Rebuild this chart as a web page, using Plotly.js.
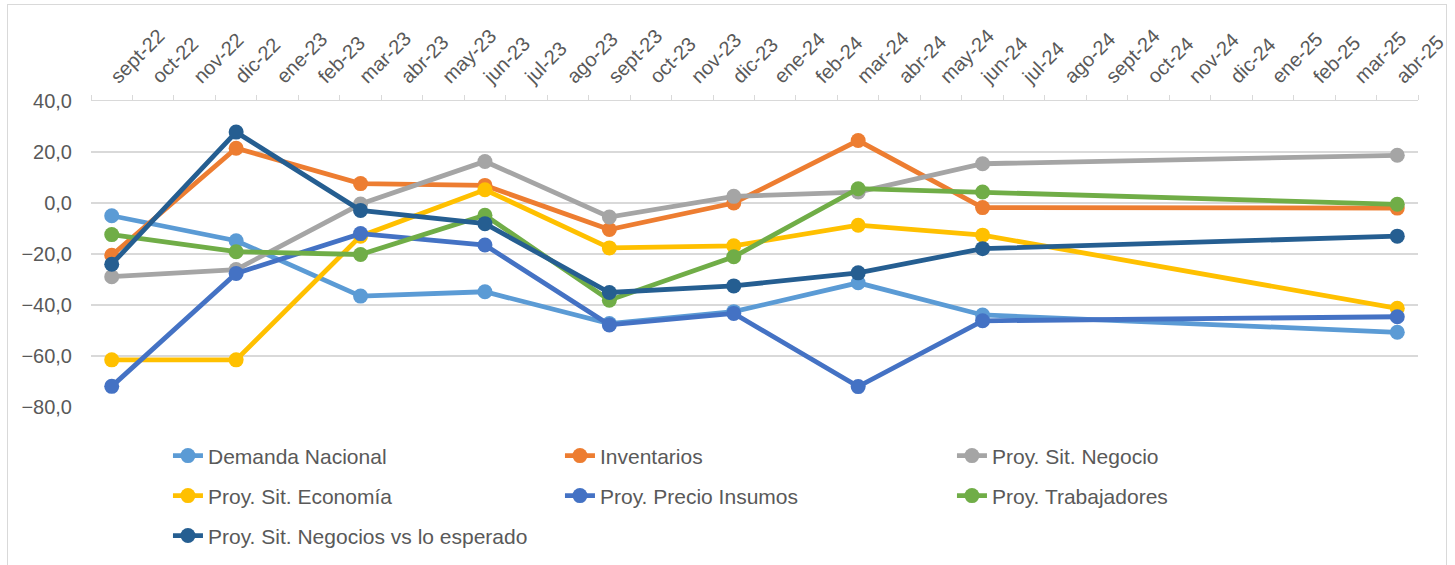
<!DOCTYPE html>
<html>
<head>
<meta charset="utf-8">
<script src="https://cdn.plot.ly/plotly-3.0.1.min.js"></script>
<style>
  html, body { margin:0; padding:0; background:#fff; }
  #chart { width:1455px; height:565px; position:relative; }
  #frame { position:absolute; left:7px; top:4px; width:1440px; height:580px; border:1.5px solid #d9d9d9; pointer-events:none; box-sizing:border-box; }
</style>
</head>
<body>
<div id="chart"></div>
<div id="frame"></div>
<script>
const categories = ['sept-22','oct-22','nov-22','dic-22','ene-23','feb-23','mar-23','abr-23','may-23','jun-23','jul-23','ago-23',
  'sept-23','oct-23','nov-23','dic-23','ene-24','feb-24','mar-24','abr-24','may-24','jun-24','jul-24','ago-24',
  'sept-24','oct-24','nov-24','dic-24','ene-25','feb-25','mar-25','abr-25'];
const xDates = ['sept-22','dic-22','mar-23','jun-23','sept-23','dic-23','mar-24','jun-24','abr-25'];

const demandaNacional   = [-5.0, -14.8, -36.5, -34.8, -47.3, -42.6, -31.3, -43.9, -50.7];
const inventarios       = [-20.5, 21.5, 7.6, 6.9, -10.4, 0.0, 24.5, -1.8, -2.0];
const sitNegocio        = [-28.9, -26.1, -0.4, 16.3, -5.5, 2.6, 4.3, 15.4, 18.7];
const sitEconomia       = [-61.5, -61.5, -13.0, 5.2, -17.6, -16.8, -8.7, -12.6, -41.3];
const precioInsumos     = [-71.9, -27.6, -12.0, -16.5, -47.8, -43.3, -72.0, -46.2, -44.6];
const trabajadores      = [-12.4, -19.1, -20.2, -4.8, -38.1, -21.1, 5.6, 4.3, -0.5];
const negociosEsperado  = [-24.0, 27.8, -2.9, -8.1, -35.1, -32.5, -27.4, -17.9, -13.0];

const yTicks = [40, 20, 0, -20, -40, -60, -80];

const series = [
  {name:'Demanda Nacional', y:demandaNacional, color:'#5B9BD5', legend:'legend'},
  {name:'Inventarios', y:inventarios, color:'#ED7D31', legend:'legend'},
  {name:'Proy. Sit. Negocio', y:sitNegocio, color:'#A5A5A5', legend:'legend'},
  {name:'Proy. Sit. Economía', y:sitEconomia, color:'#FFC000', legend:'legend2'},
  {name:'Proy. Precio Insumos', y:precioInsumos, color:'#4472C4', legend:'legend2'},
  {name:'Proy. Trabajadores', y:trabajadores, color:'#70AD47', legend:'legend2'},
  {name:'Proy. Sit. Negocios vs lo esperado', y:negociosEsperado, color:'#255E91', legend:'legend3'}
];

const traces = series.map(s => ({
  type:'scatter', mode:'lines+markers', name:s.name, x:xDates, y:s.y,
  line:{color:s.color, width:4.8}, marker:{color:s.color, size:15},
  legend:s.legend, cliponaxis:false
}));

const FONT = 'Liberation Sans, Arial, sans-serif';
const legendBase = {
  orientation:'h', xref:'paper', x:0.058, xanchor:'left', yanchor:'middle',
  entrywidth:347, entrywidthmode:'pixels', bgcolor:'rgba(0,0,0,0)',
  font:{family:FONT, size:21, color:'#595959'}, itemclick:false
};

const layout = {
  width:1455, height:565,
  margin:{l:91, r:37, t:101, b:158, autoexpand:false},
  paper_bgcolor:'#fff', plot_bgcolor:'#fff',
  font:{family:FONT, size:20, color:'#595959'},
  showlegend:true,
  xaxis:{
    type:'category', categoryorder:'array', categoryarray:categories,
    range:[-0.5, 31.5], side:'top', tickangle:-45,
    ticks:'outside', ticklen:5, tickcolor:'#d9d9d9', tickson:'boundaries',
    ticklabelstandoff:4, automargin:false,
    showline:true, linecolor:'#d9d9d9', linewidth:1.5,
    showgrid:false, zeroline:false,
    tickfont:{family:FONT, size:20, color:'#595959'},
    tickvals:categories, ticktext:categories
  },
  yaxis:{
    range:[-80, 40], tickvals:yTicks, tickformat:'.1f', automargin:false,
    showgrid:true, gridcolor:'#d9d9d9', gridwidth:1.5,
    zeroline:false, showline:false,
    ticks:'outside', ticklen:14, tickcolor:'rgba(0,0,0,0)',
    tickfont:{family:FONT, size:20, color:'#595959'}
  },
  separators:',.',
  legend:Object.assign({}, legendBase, {y:-0.160}),
  legend2:Object.assign({}, legendBase, {y:-0.2906}),
  legend3:Object.assign({}, legendBase, {y:-0.4212})
};

Plotly.newPlot('chart', traces, layout, {displayModeBar:false, staticPlot:true});
</script>
</body>
</html>
